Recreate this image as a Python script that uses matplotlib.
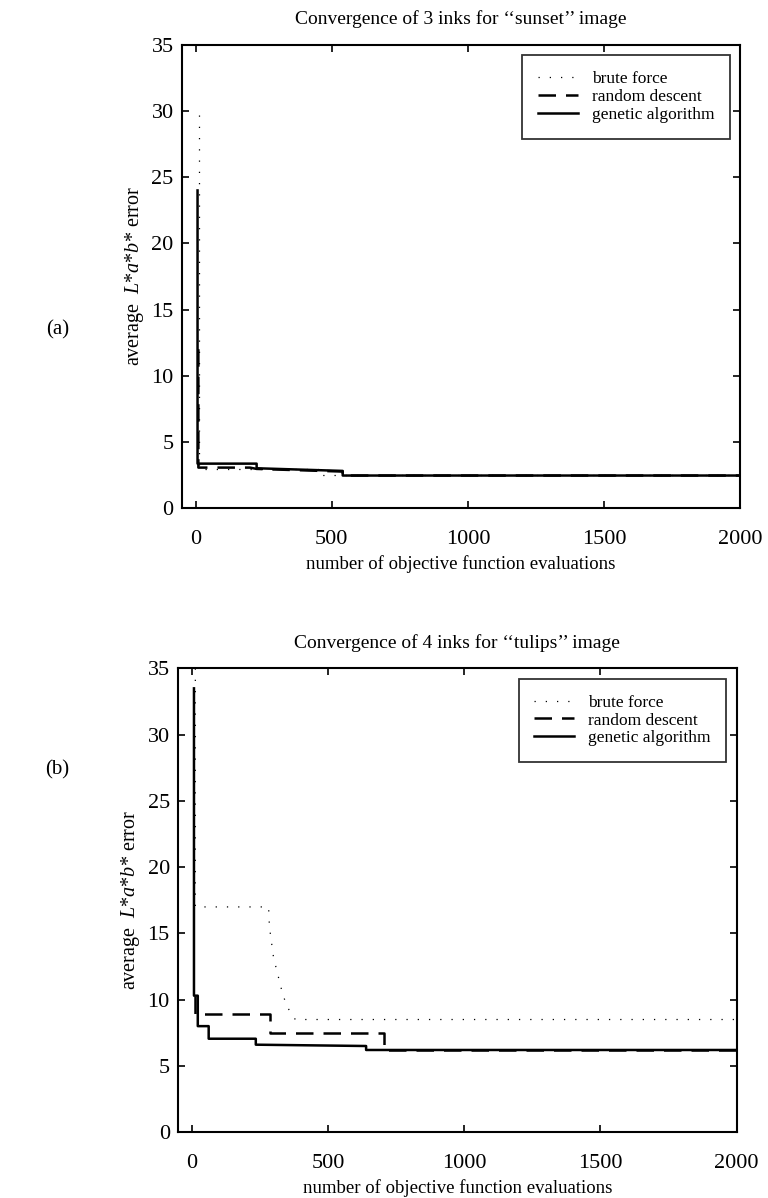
import matplotlib
matplotlib.use('Agg')
import matplotlib.pyplot as plt

plt.rcParams['font.family'] = ['Liberation Serif', 'DejaVu Serif']
plt.rcParams['mathtext.fontset'] = 'custom'
plt.rcParams['mathtext.rm'] = 'Liberation Serif'
plt.rcParams['mathtext.it'] = 'Liberation Serif:italic'

# (a) sunset, 3 inks
sunset_bf_x = [12, 12, 450, 450, 2000]
sunset_bf_y = [29.7, 2.95, 2.95, 2.5, 2.5]
sunset_rd_x = [10, 10, 200, 224, 540, 540, 2000]
sunset_rd_y = [12.0, 3.05, 3.05, 2.95, 2.75, 2.45, 2.45]
sunset_ga_x = [7, 7, 224, 224, 540, 540, 2000]
sunset_ga_y = [24.0, 3.35, 3.35, 3.0, 2.8, 2.45, 2.45]

# (b) tulips, 4 inks
tulips_bf_x = [13, 13, 282, 285, 300, 335, 355, 380, 2000]
tulips_bf_y = [35.0, 17.0, 17.0, 15.5, 13.2, 10.3, 9.3, 8.5, 8.5]
tulips_rd_x = [10, 10, 288, 288, 705, 705, 2000]
tulips_rd_y = [10.3, 8.95, 8.95, 7.45, 7.45, 6.2, 6.2]
tulips_ga_x = [8, 8, 22, 22, 62, 62, 235, 235, 640, 640, 2000]
tulips_ga_y = [33.5, 10.3, 10.3, 8.0, 8.0, 7.05, 7.05, 6.6, 6.5, 6.2, 6.2]

x_ticks = [0, 500, 1000, 1500, 2000]
y_ticks = [0, 5, 10, 15, 20, 25, 30, 35]

panels = [
    ('Convergence of 3 inks for \u2018\u2018sunset\u2019\u2019 image', '(a)',
     sunset_bf_x, sunset_bf_y, sunset_rd_x, sunset_rd_y, sunset_ga_x, sunset_ga_y),
    ('Convergence of 4 inks for \u2018\u2018tulips\u2019\u2019 image', '(b)',
     tulips_bf_x, tulips_bf_y, tulips_rd_x, tulips_rd_y, tulips_ga_x, tulips_ga_y),
]
axes_pos = [[0.237, 0.576, 0.727, 0.3865], [0.232, 0.055, 0.727, 0.387]]
tag_y = [1 - 330 / 1198, 1 - 770 / 1198]

fig = plt.figure(figsize=(7.68, 11.98), dpi=100)

for i, (title, tag, bx, by, rx, ry, gx, gy) in enumerate(panels):
    ax = fig.add_axes(axes_pos[i])
    ax.plot(bx, by, color='k', lw=0.9, linestyle=(0, (1, 8)), label='brute force')
    ax.plot(rx, ry, color='k', lw=1.8, linestyle=(0, (7, 4)), label='random descent')
    ax.plot(gx, gy, color='k', lw=1.8, label='genetic algorithm')
    ax.set_xlim(-50, 2000)
    ax.set_ylim(0, 35)
    ax.set_xticks(x_ticks)
    ax.set_yticks(y_ticks)
    ax.tick_params(direction='in', top=True, right=True, length=5, width=1.2,
                   labelsize=16)
    ax.tick_params(axis='x', pad=16)
    ax.tick_params(axis='y', pad=6)
    for s in ax.spines.values():
        s.set_linewidth(1.5)
    ax.set_title(title, fontsize=14, pad=15)
    ax.set_xlabel('number of objective function evaluations', fontsize=13.5, labelpad=4)
    ax.set_ylabel(r'average  $L$*$a$*$b$* error', fontsize=14.5, labelpad=4)
    leg = ax.legend(loc='upper right', fontsize=12.5, frameon=True, fancybox=False,
                    edgecolor='k', handlelength=2.3, handletextpad=0.8,
                    labelspacing=0.1, borderaxespad=0.6, borderpad=0.9)
    leg.get_frame().set_linewidth(1.3)
    fig.text(0.075, tag_y[i], tag, fontsize=15, ha='center', va='center')

fig.savefig('out.png', dpi=100)
